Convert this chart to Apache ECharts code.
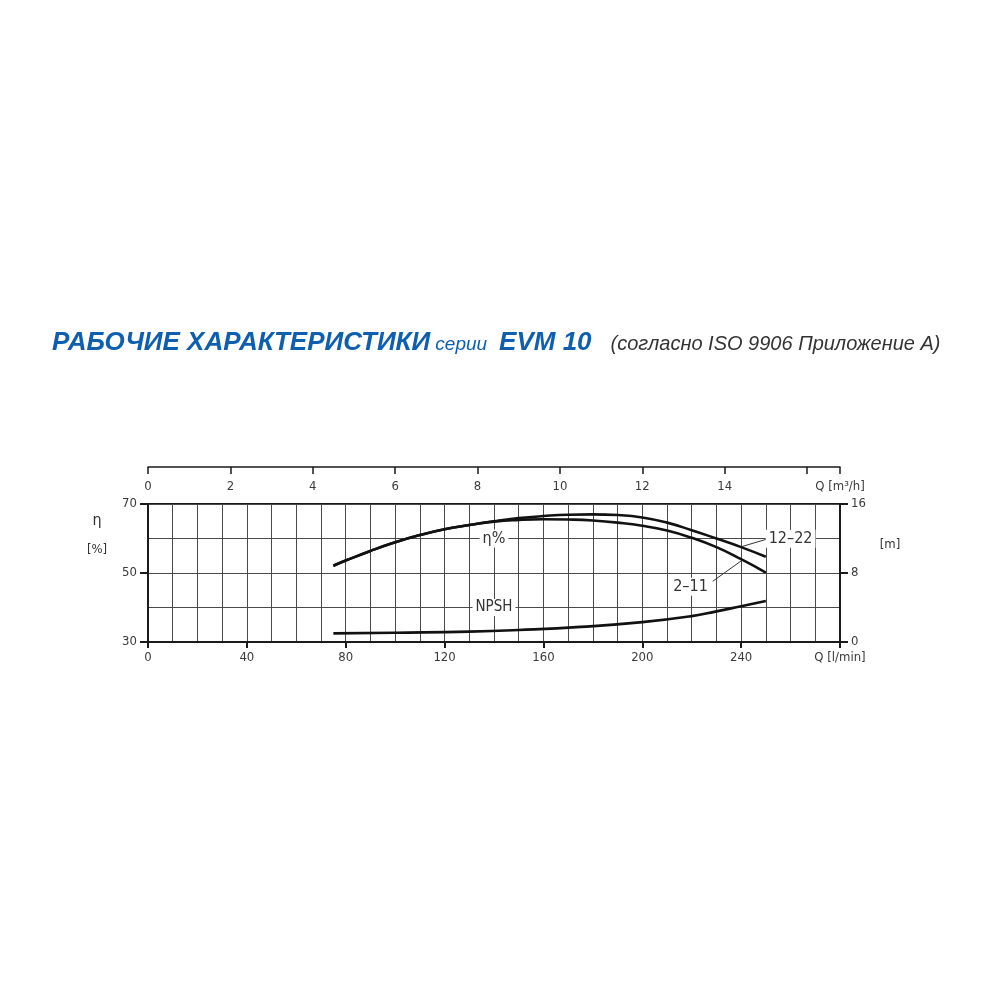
<!DOCTYPE html>
<html>
<head>
<meta charset="utf-8">
<script src="https://cdn.jsdelivr.net/npm/echarts@6/dist/echarts.min.js"></script>
<style>
  html, body { margin: 0; padding: 0; background: #fff; }
  #chart { width: 1000px; height: 1000px; }
</style>
</head>
<body>
<div id="chart"></div>
<script>
// flow, l/min
const qEff = [75, 80, 90, 100, 110, 120, 130, 140, 150, 160, 170, 180, 190, 200, 210, 220, 230, 240, 250]
// efficiency, %
const eff2to11 = [52.1, 53.6, 56.4, 58.9, 61.0, 62.7, 63.9, 64.9, 65.4, 65.6, 65.5, 65.2, 64.6, 63.7, 62.3, 60.2, 57.5, 54.0, 50.1]
const eff12to22 = [52.1, 53.6, 56.4, 58.9, 61.0, 62.7, 63.9, 65.0, 65.9, 66.5, 66.9, 67.0, 66.8, 66.1, 64.6, 62.4, 60.0, 57.5, 54.7]
// NPSH, m
const qNpsh = [75, 100, 130, 150, 175, 200, 220, 230, 240, 250]
const npsh = [1.0, 1.08, 1.2, 1.39, 1.75, 2.3, 3.0, 3.55, 4.15, 4.75]

const lpmTicks = [0, 40, 80, 120, 160, 200, 240]
const m3hTicks = [0, 2, 4, 6, 8, 10, 12, 14]

const FONT = 'DejaVu Sans Condensed'
const BLUE = '#0f5fb0'
const labelStyle = { color: '#3a3a3a', fontFamily: FONT, fontSize: 13 }
const gridLine = { color: '#4a4a4a', width: 1 }
const frame = { color: '#1a1a1a', width: 2 }

const pairs = (xs, ys) => xs.map((x, i) => [x, ys[i]])

const chart = echarts.init(document.getElementById('chart'))

const curve = (name, data, yIndex) => ({
    name, type: 'line', data, yAxisIndex: yIndex, xAxisIndex: 0,
    smooth: 0.5, showSymbol: false, silent: true,
    lineStyle: { color: '#111', width: 2.6 }
})

chart.setOption({
    animation: false,
    backgroundColor: '#fff',
    title: {
        left: 47, top: 325,
        text: '{a|РАБОЧИЕ ХАРАКТЕРИСТИКИ} {b|серии} {d|EVM 10}  {c|(согласно ISO 9906 Приложение А)}',
        textStyle: {
            rich: {
                a: { fontFamily: 'Liberation Sans', fontSize: 26, fontWeight: 'bold', fontStyle: 'italic', color: BLUE },
                d: { fontFamily: 'Liberation Sans', fontSize: 26, fontWeight: 'bold', fontStyle: 'italic', color: BLUE, padding: [0, 0, 0, 7] },
                b: { fontFamily: 'Liberation Sans', fontSize: 19, fontWeight: 'normal', fontStyle: 'italic', color: BLUE, padding: [3, 0, 0, 0] },
                c: { fontFamily: 'Liberation Sans', fontSize: 20, fontWeight: 'normal', fontStyle: 'italic', color: '#333', padding: [3, 0, 0, 9] }
            }
        }
    },
    grid: { left: 148, right: 160, top: 504, bottom: 358, show: true, borderColor: '#1a1a1a', borderWidth: 2 },
    xAxis: [
        {
            type: 'value', min: 0, max: 280, interval: 40, position: 'bottom',
            axisLine: { show: true, onZero: false, lineStyle: frame },
            axisTick: { show: true, length: 6, lineStyle: frame },
            axisLabel: {
                ...labelStyle, margin: 9, showMaxLabel: true,
                formatter: v => v === 280 ? 'Q [l/min]' : (lpmTicks.includes(v) ? String(v) : '')
            },
            splitLine: { show: true, lineStyle: gridLine },
            minorTick: { show: false, splitNumber: 4 },
            minorSplitLine: { show: true, lineStyle: gridLine }
        },
        {
            type: 'value', min: 0, max: 16.8, interval: 2, position: 'top', offset: 37,
            axisLine: { show: true, onZero: false, lineStyle: { color: '#1a1a1a', width: 1.5 } },
            axisTick: { show: true, inside: true, length: 7, lineStyle: { color: '#1a1a1a', width: 1.5 } },
            axisLabel: {
                ...labelStyle, inside: true, margin: 13, showMaxLabel: true,
                formatter: v => Math.abs(v - 16.8) < 0.01 ? 'Q [m³/h]' : (m3hTicks.includes(v) ? String(v) : '')
            },
            splitLine: { show: false }
        }
    ],
    yAxis: [
        {
            type: 'value', min: 30, max: 70, interval: 20, position: 'left',
            axisLine: { show: true, onZero: false, lineStyle: frame },
            axisTick: { show: true, length: 8, lineStyle: frame },
            axisLabel: { ...labelStyle, margin: 11 },
            splitLine: { show: true, lineStyle: gridLine },
            minorTick: { show: false, splitNumber: 2 },
            minorSplitLine: { show: true, lineStyle: gridLine }
        },
        {
            type: 'value', min: 0, max: 16, interval: 8, position: 'right',
            axisLine: { show: true, onZero: false, lineStyle: frame },
            axisTick: { show: true, length: 8, lineStyle: frame },
            axisLabel: { ...labelStyle, margin: 11 },
            splitLine: { show: false }
        }
    ],
    series: [
        curve('2-11', pairs(qEff, eff2to11), 0),
        curve('12-22', pairs(qEff, eff12to22), 0),
        curve('NPSH', pairs(qNpsh, npsh), 1)
    ]
})

// annotations placed through the chart's own scales
const px = (q, eff) => chart.convertToPixel({ xAxisIndex: 0, yAxisIndex: 0 }, [q, eff])
const tagText = (text, pos, size, extra) => ({
    type: 'text', x: pos[0], y: pos[1], silent: true,
    style: Object.assign({
        text, fill: '#333', font: size + 'px "' + FONT + '"',
        align: 'center', verticalAlign: 'middle',
        backgroundColor: '#fff', padding: [1, 3]
    }, extra || {})
})
const leader = (a, b) => ({
    type: 'line', silent: true,
    shape: { x1: a[0], y1: a[1], x2: b[0], y2: b[1] },
    style: { stroke: '#333', lineWidth: 1 }
})

chart.setOption({
    graphic: [
        tagText('η%', px(140, 60), 16),
        tagText('NPSH', px(140, 40), 15),
        leader(px(240, 57.6), px(250.8, 59.9)),
        tagText('12–22', px(260, 59.9), 16),
        leader(px(240.2, 53.6), px(228.5, 47.6)),
        tagText('2–11', px(219.5, 46), 16),
        tagText('η', [97, 521], 16, { backgroundColor: null }),
        tagText('[%]', [97, 550], 13, { backgroundColor: null }),
        tagText('[m]', [890, 545], 13, { backgroundColor: null })
    ]
})
</script>
</body>
</html>
